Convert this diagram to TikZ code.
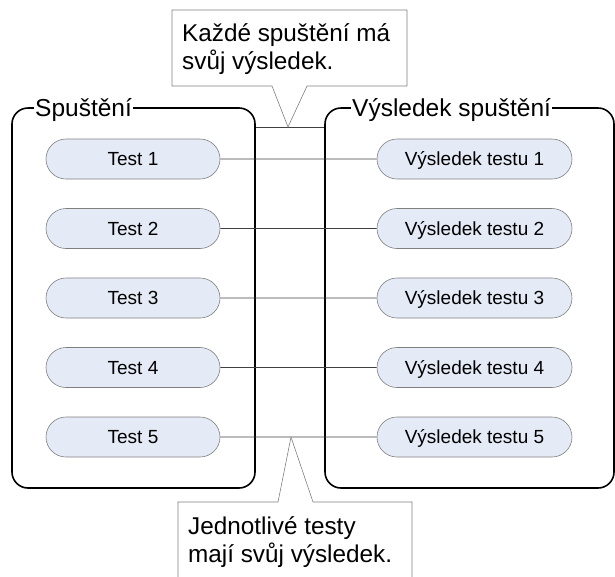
\documentclass[tikz,border=0pt]{standalone}
\usepackage{fontspec}
\setmainfont{Liberation Sans}
\usetikzlibrary{shapes.misc}
\definecolor{pillfill}{HTML}{E5EBF6}
\definecolor{pillline}{HTML}{7F7F7F}
\definecolor{calline}{HTML}{808080}
\tikzset{
  grp/.style={draw=black, line width=1.6pt, rounded corners=16pt, minimum height=380pt, inner sep=0pt},
  grplabel/.style={fill=white, inner sep=1pt, anchor=base west, font=\fontsize{24.5}{28}\selectfont},
  pill/.style={rounded rectangle, draw=pillline, line width=0.6pt, fill=pillfill, minimum height=40pt, inner sep=0pt, text height=13.8pt, text depth=0pt, font=\fontsize{19}{22}\selectfont},
  conn/.style={draw=black!75, line width=0.6pt},
  calout/.style={draw=calline, line width=0.6pt, fill=white},
  caltext/.style={anchor=base west, align=left, inner sep=0pt, font=\fontsize{24.3}{28}\selectfont}
}
\begin{document}
\begin{tikzpicture}[x=1pt,y=-1pt]
\useasboundingbox (0,0) rectangle (615,576);
\clip (0,0) rectangle (615,576);
% groups
\node[grp, minimum width=243pt] (g1) at (133.5,298) {};
\node[grp, minimum width=289pt] (g2) at (469.5,298) {};
\node[grplabel] (l1) at (34,116.5) {Spuštění};
\node[grplabel] (l2) at (351,116.5) {Výsledek spuštění};
\coordinate (c1) at (255,127);
\coordinate (c2) at (325,127);
\draw[conn] (g1.east |- c1) -- (g2.west |- c2);
% pills
\foreach \i/\y in {1/159,2/228.5,3/298,4/367.5,5/437}{
  \node[pill, minimum width=174pt] (t\i) at (133,\y) {Test \i};
  \node[pill, minimum width=195pt] (r\i) at (474.5,\y) {Výsledek testu \i};
  \draw[conn] (t\i) -- (r\i);
}
% top callout
\draw[calout] (172,10) -- (407,10) -- (407,86) -- (307,86) -- (288,127) -- (272,86) -- (172,86) -- cycle;
\node[caltext] (k1) at (182,69) {Každé spuštění má\\svůj výsledek.};
% bottom callout
\draw[calout] (178,502) -- (278,502) -- (291,437) -- (313,502) -- (412,502) -- (412,600) -- (178,600) -- cycle;
\node[caltext] (k2) at (188,562) {Jednotlivé testy\\mají svůj výsledek.};
\end{tikzpicture}
\end{document}
